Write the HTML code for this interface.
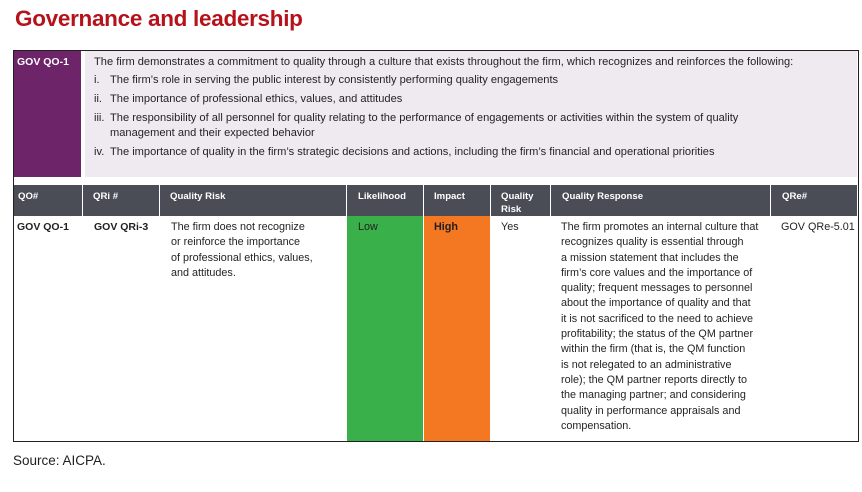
<!DOCTYPE html>
<html><head><meta charset="utf-8"><style>
*{margin:0;padding:0;box-sizing:border-box}
body{width:862px;height:492px;background:#fff;position:relative;overflow:hidden;font-family:"Liberation Sans",sans-serif;color:#231f20}
.a{position:absolute;white-space:nowrap}
.t{font-size:11.1px;line-height:15.3px}
.h{background:#4a4d55;color:#fff;font-size:9.6px;line-height:12.5px;font-weight:bold;padding:6px 0 0 4px;top:185px;height:31px}
.b{font-size:10.8px;line-height:15.3px}
</style></head><body>
<div class="a" style="left:15px;top:6px;font-size:22.5px;font-weight:bold;color:#b5121b;letter-spacing:-0.3px">Governance and leadership</div>
<div class="a" style="left:13px;top:50px;width:846px;height:392px;border:1.5px solid #231f20"></div>
<div class="a" style="left:14px;top:51px;width:67px;height:126px;background:#6d2469"></div>
<div class="a" style="left:17px;top:56px;color:#fff;font-size:10.5px;font-weight:bold">GOV QO-1</div>
<div class="a" style="left:85px;top:51px;width:772px;height:126px;background:#efeaf0"></div>
<div class="a t" style="left:94px;top:55px">The firm demonstrates a commitment to quality through a culture that exists throughout the firm, which recognizes and reinforces the following:</div>
<div class="a t" style="left:94px;top:73px">i.</div><div class="a t" style="left:110px;top:73px">The firm’s role in serving the public interest by consistently performing quality engagements</div>
<div class="a t" style="left:94px;top:92px">ii.</div><div class="a t" style="left:110px;top:92px">The importance of professional ethics, values, and attitudes</div>
<div class="a t" style="left:94px;top:111px">iii.</div><div class="a t" style="left:110px;top:111px">The responsibility of all personnel for quality relating to the performance of engagements or activities within the system of quality<br>management and their expected behavior</div>
<div class="a t" style="left:94px;top:145px">iv.</div><div class="a t" style="left:110px;top:145px">The importance of quality in the firm’s strategic decisions and actions, including the firm’s financial and operational priorities</div>

<div class="a h" style="left:14px;width:68px">QO#</div>
<div class="a h" style="left:83px;width:76px;padding-left:10px">QRi #</div>
<div class="a h" style="left:160px;width:186px;padding-left:10px">Quality Risk</div>
<div class="a h" style="left:347px;width:76px;padding-left:11px">Likelihood</div>
<div class="a h" style="left:424px;width:66px;padding-left:10px">Impact</div>
<div class="a h" style="left:491px;width:59px;padding-left:10px">Quality<br>Risk</div>
<div class="a h" style="left:551px;width:219px;padding-left:11px">Quality Response</div>
<div class="a h" style="left:771px;width:86px;padding-left:11px">QRe#</div>

<div class="a" style="left:347px;top:216px;width:76px;height:225px;background:#3ab04b"></div>
<div class="a" style="left:424px;top:216px;width:66px;height:225px;background:#f47721"></div>
<div class="a b" style="left:17px;top:220px;font-weight:bold;font-size:10.5px">GOV QO-1</div>
<div class="a b" style="left:94px;top:220px;font-weight:bold;font-size:10.5px">GOV QRi-3</div>
<div class="a b" style="left:171px;top:220px">The firm does not recognize<br>or reinforce the importance<br>of professional ethics, values,<br>and attitudes.</div>
<div class="a b" style="left:358px;top:220px">Low</div>
<div class="a b" style="left:434px;top:220px;font-weight:bold">High</div>
<div class="a b" style="left:501px;top:220px">Yes</div>
<div class="a b" style="left:561px;top:220px">The firm promotes an internal culture that<br>recognizes quality is essential through<br>a mission statement that includes the<br>firm’s core values and the importance of<br>quality; frequent messages to personnel<br>about the importance of quality and that<br>it is not sacrificed to the need to achieve<br>profitability; the status of the QM partner<br>within the firm (that is, the QM function<br>is not relegated to an administrative<br>role); the QM partner reports directly to<br>the managing partner; and considering<br>quality in performance appraisals and<br>compensation.</div>
<div class="a b" style="left:781px;top:220px">GOV QRe-5.01</div>
<div class="a" style="left:13px;top:453px;font-size:13.5px">Source: AICPA.</div>
</body></html>
